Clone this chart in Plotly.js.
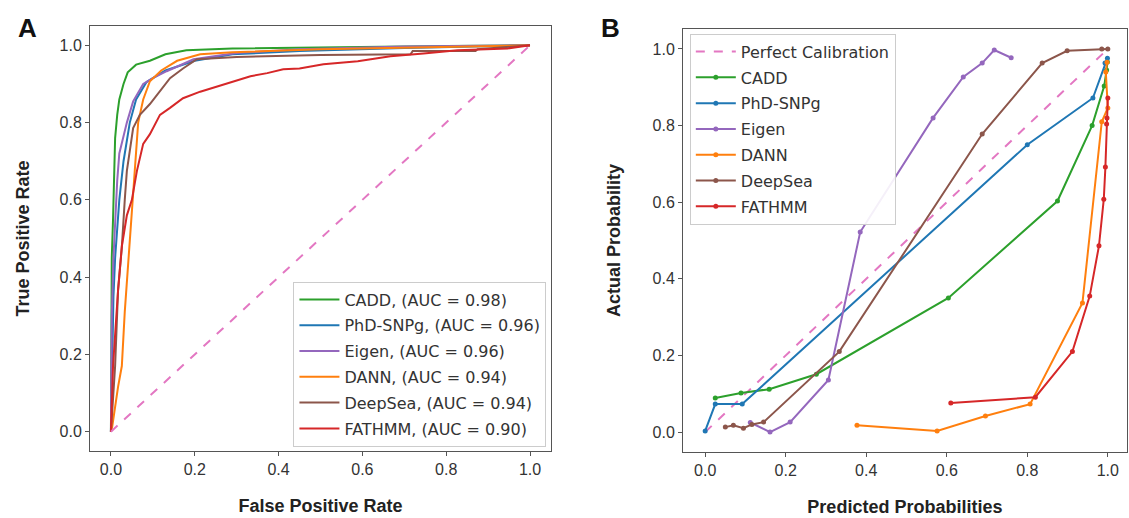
<!DOCTYPE html>
<html>
<head>
<meta charset="utf-8">
<script src="https://cdn.plot.ly/plotly-3.0.1.min.js"></script>
<style>html,body{margin:0;padding:0;background:#fff;}#chart{width:1129px;height:518px;}</style>
</head>
<body>
<div id="chart"></div>
<script>
// ---------- Panel A: ROC curves ----------
const models = ["CADD", "PhD-SNPg", "Eigen", "DANN", "DeepSea", "FATHMM"];
const aucValues = ["0.98", "0.96", "0.96", "0.94", "0.94", "0.90"];

const caddFpr = [0, 0.002, 0.005, 0.008, 0.01, 0.015, 0.02, 0.03, 0.04, 0.06, 0.093, 0.13, 0.18, 0.29, 0.5, 0.8, 1];
const caddTpr = [0, 0.45, 0.55, 0.68, 0.76, 0.82, 0.86, 0.9, 0.93, 0.95, 0.96, 0.977, 0.987, 0.992, 0.995, 0.998, 1];

const phdFpr = [0, 0.003, 0.006, 0.01, 0.015, 0.02, 0.03, 0.045, 0.06, 0.085, 0.13, 0.2, 0.29, 0.45, 0.7, 1];
const phdTpr = [0, 0.2, 0.35, 0.45, 0.53, 0.6, 0.7, 0.8, 0.86, 0.905, 0.935, 0.96, 0.977, 0.985, 0.993, 1];

const eigenFpr = [0, 0.002, 0.006, 0.01, 0.015, 0.02, 0.038, 0.053, 0.077, 0.1, 0.133, 0.197, 0.3, 0.45, 0.7, 1];
const eigenTpr = [0, 0.3, 0.45, 0.55, 0.65, 0.72, 0.8, 0.855, 0.9, 0.915, 0.933, 0.964, 0.98, 0.99, 0.997, 1];

const dannFpr = [0, 0.003, 0.017, 0.026, 0.033, 0.041, 0.05, 0.057, 0.065, 0.077, 0.093, 0.12, 0.158, 0.213, 0.29, 0.5, 0.75, 1];
const dannTpr = [0, 0.013, 0.116, 0.17, 0.31, 0.435, 0.56, 0.68, 0.8, 0.86, 0.907, 0.935, 0.96, 0.977, 0.982, 0.99, 0.995, 1];

const deepFpr = [0, 0.003, 0.01, 0.017, 0.026, 0.033, 0.038, 0.053, 0.069, 0.093, 0.117, 0.141, 0.172, 0.205, 0.3, 0.5, 0.715, 0.72, 0.87, 0.875, 1];
const deepTpr = [0, 0.057, 0.17, 0.366, 0.477, 0.6, 0.675, 0.786, 0.82, 0.848, 0.88, 0.915, 0.94, 0.964, 0.97, 0.975, 0.977, 0.985, 0.985, 0.99, 1];

const fathFpr = [0, 0.003, 0.005, 0.017, 0.026, 0.038, 0.05, 0.062, 0.077, 0.093, 0.117, 0.141, 0.172, 0.213, 0.254, 0.292, 0.333, 0.373, 0.411, 0.45, 0.507, 0.589, 0.667, 0.746, 0.827, 0.947, 1];
const fathTpr = [0, 0.1, 0.17, 0.366, 0.48, 0.56, 0.6, 0.675, 0.745, 0.77, 0.82, 0.838, 0.863, 0.88, 0.894, 0.907, 0.92, 0.928, 0.938, 0.94, 0.951, 0.959, 0.972, 0.979, 0.987, 0.992, 1];

const diagonal = [0, 1];

// ---------- Panel B: calibration curves ----------
const caddPred = [0.025, 0.089, 0.159, 0.276, 0.604, 0.875, 0.961, 0.991, 0.997, 0.999];
const caddAct = [0.089, 0.102, 0.112, 0.151, 0.35, 0.603, 0.80, 0.903, 0.945, 0.966];

const phdPred = [0.0, 0.025, 0.092, 0.8, 0.963, 0.993, 0.999];
const phdAct = [0.003, 0.073, 0.073, 0.75, 0.872, 0.963, 0.976];

const eigenPred = [0.112, 0.161, 0.211, 0.306, 0.385, 0.566, 0.641, 0.688, 0.718, 0.76];
const eigenAct = [0.025, 0.0, 0.026, 0.136, 0.522, 0.82, 0.927, 0.963, 0.997, 0.977];

const dannPred = [0.377, 0.576, 0.696, 0.807, 0.937, 0.985, 1.0, 0.995, 0.998];
const dannAct = [0.018, 0.003, 0.042, 0.073, 0.337, 0.81, 0.846, 0.94, 0.965];

const deepPred = [0.05, 0.07, 0.095, 0.116, 0.145, 0.333, 0.688, 0.837, 0.899, 0.985, 1.0];
const deepAct = [0.013, 0.018, 0.01, 0.02, 0.026, 0.21, 0.778, 0.963, 0.995, 1.0, 1.0];

const fathPred = [0.61, 0.82, 0.912, 0.955, 0.978, 0.99, 0.994, 0.997, 0.998, 1.0];
const fathAct = [0.076, 0.091, 0.21, 0.355, 0.486, 0.608, 0.692, 0.804, 0.82, 0.872];

const colors = ["#2ca02c", "#1f77b4", "#9467bd", "#ff7f0e", "#8c564b", "#d62728"];
const pink = "#e377c2";

const rocX = [caddFpr, phdFpr, eigenFpr, dannFpr, deepFpr, fathFpr];
const rocY = [caddTpr, phdTpr, eigenTpr, dannTpr, deepTpr, fathTpr];
const calX = [caddPred, phdPred, eigenPred, dannPred, deepPred, fathPred];
const calY = [caddAct, phdAct, eigenAct, dannAct, deepAct, fathAct];

const traces = [];
models.forEach((m, i) => {
  traces.push({
    x: rocX[i], y: rocY[i], type: "scatter", mode: "lines",
    name: m + ", (AUC = " + aucValues[i] + ")",
    legendgroup: "roc" + i,
    line: {color: colors[i], width: 2},
    xaxis: "x", yaxis: "y", legend: "legend"
  });
});
traces.push({
  x: diagonal, y: diagonal, type: "scatter", mode: "lines", showlegend: false,
  line: {color: pink, width: 2, dash: "dash"}, xaxis: "x", yaxis: "y", hoverinfo: "skip"
});

traces.push({
  x: diagonal, y: diagonal, type: "scatter", mode: "lines", name: "Perfect Calibration",
  legendgroup: "calp",
  line: {color: pink, width: 2, dash: "dash"}, xaxis: "x2", yaxis: "y2", legend: "legend2"
});
models.forEach((m, i) => {
  traces.push({
    x: calX[i], y: calY[i], type: "scatter", mode: "lines+markers", name: m,
    legendgroup: "cal" + i,
    line: {color: colors[i], width: 2}, marker: {color: colors[i], size: 5},
    xaxis: "x2", yaxis: "y2", legend: "legend2"
  });
});

const tickFont = {family: "Liberation Sans, Arial, sans-serif", size: 16, color: "#333"};
const titleFont = {family: "Liberation Sans, Arial, sans-serif", size: 18, color: "#222", weight: "bold"};

function axis(domain, range, anchor, title, standoff) {
  return {
    domain: domain, range: range, anchor: anchor,
    showgrid: false, zeroline: false,
    showline: true, mirror: true, linecolor: "#555", linewidth: 1,
    ticks: "outside", ticklen: 4, tickcolor: "#555", tickwidth: 1,
    dtick: 0.2, tick0: 0, tickformat: ".1f",
    tickfont: tickFont,
    title: {text: title, font: titleFont, standoff: standoff}
  };
}

const legendFont = {family: "DejaVu Sans, sans-serif", size: 16, color: "#333"};

const layout = {
  width: 1129, height: 518,
  margin: {l: 0, r: 0, t: 0, b: 0},
  paper_bgcolor: "#fff", plot_bgcolor: "#fff",
  showlegend: true,
  xaxis: axis([0.0797, 0.488], [-0.05, 1.05], "y", "False Positive Rate", 22),
  yaxis: axis([0.1293, 0.9498], [-0.05, 1.05], "x", "True Positive Rate", 25),
  xaxis2: axis([0.605, 0.998], [-0.055, 1.047], "y2", "Predicted Probabilities", 22),
  yaxis2: axis([0.1274, 0.944], [-0.052, 1.052], "x2", "Actual Probability", 27),
  legend: {
    x: 0.484, y: 0.138, xanchor: "right", yanchor: "bottom",
    bgcolor: "rgba(255,255,255,0.9)", bordercolor: "#ccc", borderwidth: 1,
    font: legendFont, tracegroupgap: 2, itemwidth: 40
  },
  legend2: {
    x: 0.611, y: 0.935, xanchor: "left", yanchor: "top",
    bgcolor: "rgba(255,255,255,0.9)", bordercolor: "#ccc", borderwidth: 1,
    font: legendFont, tracegroupgap: 2, itemwidth: 40
  },
  annotations: [
    {text: "A", x: 27, y: 28},
    {text: "B", x: 610, y: 28}
  ].map(a => ({
    text: "<b>" + a.text + "</b>", xref: "paper", yref: "paper",
    x: a.x / 1129, y: 1 - a.y / 518, xanchor: "center", yanchor: "middle",
    showarrow: false, font: {family: "Liberation Sans, Arial, sans-serif", size: 26, color: "#111"}
  }))
};

Plotly.newPlot("chart", traces, layout, {displayModeBar: false, staticPlot: true});
</script>
</body>
</html>
